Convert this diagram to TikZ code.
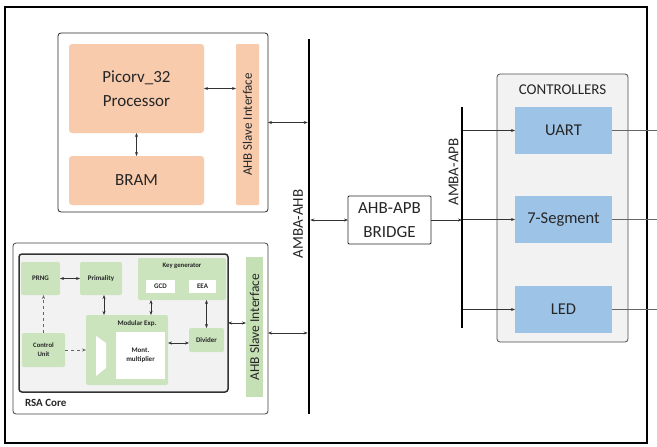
\documentclass[tikz,border=0pt]{standalone}
\usepackage{fontspec}
\setmainfont{Carlito}
\usetikzlibrary{arrows.meta,calc}
\definecolor{peach}{HTML}{F8CBAD}
\definecolor{lgreen}{HTML}{C5E0B4}
\definecolor{igreen}{HTML}{CBE4BE}
\definecolor{lblue}{HTML}{9DC3E6}
\definecolor{lgray}{HTML}{F2F2F2}
\definecolor{txt}{HTML}{262626}
\tikzset{
  x=1pt,y=-1pt,
  box/.style={inner sep=0pt,outer sep=0pt,align=center,text=txt},
  grp/.style={box,draw=black!85,line width=0.8pt,rounded corners=3pt},
  peachbox/.style={box,fill=peach,rounded corners=3pt,font=\fontsize{17}{24}\selectfont},
  greenbar/.style={box,fill=lgreen},
  bluebox/.style={box,fill=lblue,font=\fontsize{16.5}{20}\selectfont},
  ibox/.style={box,fill=igreen,rounded corners=2pt,font=\bfseries\fontsize{7}{8.5}\selectfont},
  wbox/.style={box,fill=white,font=\bfseries\fontsize{7}{8.5}\selectfont},
  bus/.style={box,fill=black,minimum width=2.5pt},
  vlabel/.style={inner sep=0pt,rotate=90,text=txt},
  conn/.style={draw=black!80,line width=0.6pt},
  biarr/.style={conn,{Stealth[length=4pt,width=3pt]}-{Stealth[length=4pt,width=3pt]}},
  arr/.style={conn,-{Stealth[length=4pt,width=3pt]}},
  dasharr/.style={conn,draw=black!60,dashed,-{Stealth[length=4pt,width=3pt]}},
}
\begin{document}
\begin{tikzpicture}
\useasboundingbox (0,0) rectangle (657,447);
% outer frame
\draw[line width=2pt,black] (5,7) rectangle (647,443);

% ---------- processor group ----------
\node[grp,minimum width=210pt,minimum height=179pt] (topgrp) at (163,122.5) {};
\node[peachbox,minimum width=135pt,minimum height=89pt] (proc) at (136.5,88.5) {Picorv\_32\\Processor};
\node[peachbox,minimum width=135pt,minimum height=49pt] (bram) at (136.5,180.5) {BRAM};
\node[box,fill=peach,rounded corners=1pt,minimum width=23pt,minimum height=161pt] (slave1) at (247.5,124.5) {};
\node[vlabel,font=\fontsize{13}{15}\selectfont] (slave1lbl) at (slave1.center) {AHB Slave Interface};
\draw[biarr] (proc.east) -- (proc.east -| slave1.west);
\draw[biarr] (proc.south) -- (bram.north);

% ---------- buses ----------
\node[bus,minimum height=375pt] (ahb) at (309,226) {};
\node[vlabel,font=\fontsize{15}{17}\selectfont] (ahblbl) at (298,224) {AMBA-AHB};
\node[bus,minimum height=221pt] (apb) at (462,217.5) {};
\node[vlabel,font=\fontsize{15}{17}\selectfont] (apblbl) at (453.5,172) {AMBA-APB};

\draw[biarr] (topgrp.east) -- (topgrp.east -| ahb.west);

% ---------- bridge ----------
\node[box,draw=black!85,line width=0.8pt,rounded corners=1pt,fill=white,minimum width=83pt,minimum height=48pt,font=\fontsize{17}{24}\selectfont] (bridge) at (389.5,220) {AHB-APB\\BRIDGE};
\draw[biarr] (bridge.west -| ahb.east) -- (bridge.west);
\draw[arr] (bridge.east) -- (bridge.east -| apb.center);

% ---------- controllers ----------
\node[box,fill=lgray,draw=black!70,line width=0.8pt,rounded corners=3pt,minimum width=131pt,minimum height=268pt] (ctrlgrp) at (562.5,208) {};
\node[box,font=\fontsize{15}{17}\selectfont] (ctrllbl) at (562.5,90) {CONTROLLERS};
\node[bluebox,minimum width=97pt,minimum height=47pt] (uart) at (563.5,130.5) {UART};
\node[bluebox,minimum width=97pt,minimum height=47pt] (seg) at (563.5,219.5) {7-Segment};
\node[bluebox,minimum width=97pt,minimum height=47pt] (led) at (563.5,309.5) {LED};
\coordinate (redge) at (657,0);
\foreach \n in {uart,seg,led}{
  \draw[arr] (\n.west -| apb.east) -- (\n.west);
  \draw[draw=black!60,line width=0.7pt] (\n.east) -- (\n.east -| redge);
}

% ---------- RSA ----------
\node[box,draw=black!75,line width=0.8pt,rounded corners=3pt,minimum width=255pt,minimum height=171pt] (rsa) at (140.5,328.5) {};
\node[box,fill=lgray,draw=black!80,line width=1.5pt,rounded corners=3pt,minimum width=209pt,minimum height=138pt] (inner) at (123.5,323) {};
\node[box,anchor=west,font=\bfseries\fontsize{11}{13}\selectfont] (rsalbl) at (25,403) {RSA Core};
\node[greenbar,minimum width=17pt,minimum height=140pt] (slave2) at (254.5,327) {};
\node[vlabel,font=\fontsize{13.5}{15}\selectfont] (slave2lbl) at (slave2.center) {AHB Slave Interface};
\draw[biarr] (inner.east) -- (inner.east -| slave2.west);
\coordinate (rsaport) at ($(rsa.east)+(0,4.5)$);
\draw[biarr] (rsaport) -- (rsaport -| ahb.west);

\node[ibox,minimum width=39pt,minimum height=33pt] (prng) at (40.5,278.5) {PRNG};
\node[ibox,minimum width=42pt,minimum height=33pt] (prim) at (101,278.5) {Primality};
\node[ibox,minimum width=88pt,minimum height=42pt] (keygen) at (182,279) {};
\node[box,font=\bfseries\fontsize{6.7}{8}\selectfont] (keylbl) at (182,266) {Key generator};
\node[wbox,minimum width=29pt,minimum height=13pt] (gcd) at (160.5,286.5) {GCD};
\node[wbox,minimum width=27pt,minimum height=13pt] (eea) at (202.5,286.5) {EEA};
\node[ibox,minimum width=82pt,minimum height=70pt] (modexp) at (127,350) {};
\node[box,font=\bfseries\fontsize{7}{8}\selectfont] (modlbl) at (137,324) {Modular Exp.};
\node[wbox,minimum width=49pt,minimum height=47pt,font=\bfseries\fontsize{7}{9}\selectfont] (mont) at (140.5,355.5) {Mont.\\multiplier};
\fill[white] (96,336) -- (106,343) -- (106,368) -- (96,376) -- cycle;
\node[ibox,minimum width=43pt,minimum height=34pt,font=\bfseries\fontsize{6.7}{9}\selectfont] (ctrl) at (43.5,350) {Control\\Unit};
\node[ibox,minimum width=35pt,minimum height=24pt] (divider) at (206.5,340) {Divider};

\coordinate (primport) at ($(prim.south)+(3,0)$);
\coordinate (keyport) at ($(keygen.south west)+(13,0)$);
\coordinate (divport) at ($(divider.west)+(0,3)$);
\draw[biarr] (prng.east) -- (prim.west);
\draw[dasharr] (ctrl.north) -- (ctrl.north |- prng.south);
\draw[dasharr] (ctrl.east) -- (ctrl.east -| modexp.west);
\draw[biarr] (primport) -- (primport |- modexp.north);
\draw[biarr] (keyport) -- (keyport |- modexp.north);
\draw[biarr] (keygen.south -| divider.north) -- (divider.north);
\draw[biarr] (divport -| modexp.east) -- (divport);
\end{tikzpicture}
\end{document}
